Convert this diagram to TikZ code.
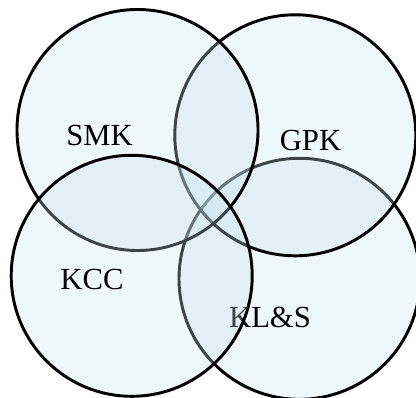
\documentclass[tikz,border=0pt]{standalone}
\usepackage{fontspec}
\setmainfont{Liberation Serif}
\definecolor{vennblue}{RGB}{200,228,238}

\begin{document}
\begin{tikzpicture}[x=0.75pt, y=-0.75pt,
  set/.style={draw=black, line width=2.2pt, fill=vennblue, fill opacity=0.3},
  setname/.style={font=\fontsize{23}{28}\selectfont, inner sep=0pt}]
\def\r{120.5}
\useasboundingbox (0, 0) rectangle (416, 398);

% back to front: KL&S, GPK, SMK, KCC
\draw [set] (299.5, 278.8) circle [radius=\r];
\node (kls) [setname] at (270, 317) {KL\&S};

\draw [set] (295.3, 135.3) circle [radius=\r];
\node (gpk) [setname] at (310.5, 141) {GPK};

\draw [set] (137.5, 130) circle [radius=\r];
\node (smk) [setname] at (99.5, 135.5) {SMK};

\draw [set] (131.7, 275.8) circle [radius=\r];
\node (kcc) [setname] at (92, 279) {KCC};
\end{tikzpicture}
\end{document}
